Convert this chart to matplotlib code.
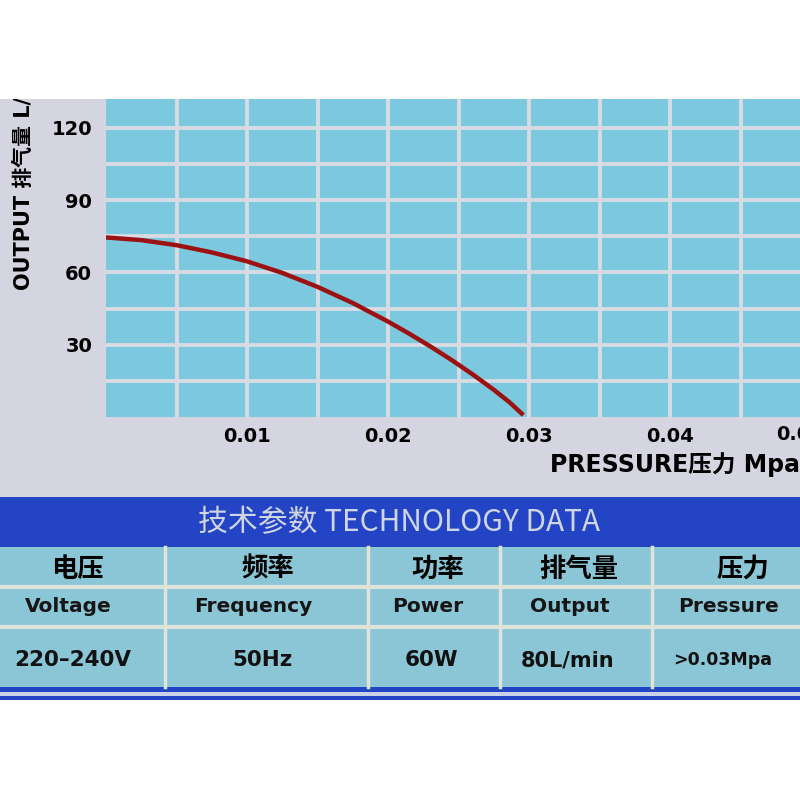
import matplotlib
matplotlib.use("Agg")
import matplotlib.pyplot as plt
from matplotlib.patches import Rectangle

plt.rcParams['font.family'] = ['DejaVu Sans', 'Noto Sans CJK SC']

# curve (pressure in Mpa, output in L/min)
pressure = [0.0, 0.0025, 0.005, 0.0075, 0.01, 0.0125, 0.015, 0.0175,
            0.02, 0.0215, 0.023, 0.0245, 0.026, 0.0275, 0.0286, 0.0296]
output = [74.5, 73.4, 71.3, 68.3, 64.6, 59.8, 54.0, 47.3,
          39.6, 34.6, 29.3, 23.7, 17.7, 11.3, 6.2, 0.8]

x_ticks = [0.01, 0.02, 0.03, 0.04]
x_minor = [0.005, 0.015, 0.025, 0.035, 0.045]
y_ticks = [30, 60, 90, 120]
y_minor = [15, 45, 75, 105]

table_title = "技术参数 TECHNOLOGY DATA"
table_cn = ["电压", "频率", "功率", "排气量", "压力"]
table_en = ["Voltage", "Frequency", "Power", "Output", "Pressure"]
table_val = ["220–240V", "50Hz", "60W", "80L/min", ">0.03Mpa"]

W = 800.0
panel_gray = "#d5d5e1"
cell_blue = "#7cc8df"
grid_col = "#d9dbe3"
band_blue = "#2344c4"
table_blue = "#8ac6d6"
divider = "#dfe3da"

fig = plt.figure(figsize=(8, 8), dpi=100, facecolor="white")

# background layer in pixel coordinates
bg = fig.add_axes([0, 0, 1, 1], zorder=-1)
bg.set_xlim(0, W)
bg.set_ylim(W, 0)
bg.axis("off")
bg.add_patch(Rectangle((0, 99), W, 398, color=panel_gray, lw=0))
bg.add_patch(Rectangle((0, 497), W, 50, color=band_blue, lw=0))
bg.add_patch(Rectangle((0, 547), W, 141, color=table_blue, lw=0))
bg.add_patch(Rectangle((0, 687), W, 5, color=band_blue, lw=0))
bg.add_patch(Rectangle((0, 692), W, 4, color="#c9d3e6", lw=0))
bg.add_patch(Rectangle((0, 696), W, 4, color=band_blue, lw=0))
for yy in [587, 627]:
    bg.plot([0, W], [yy, yy], color=divider, lw=3)
for xx in [165, 368, 500, 652]:
    bg.plot([xx, xx], [547, 687], color=divider, lw=2.5)

bg.text(399, 523, table_title, color="#cfd5e3", fontsize=21.5,
        family=['Liberation Sans Narrow', 'Noto Sans CJK SC'],
        ha="center", va="center")

cn_x = [77, 268, 438, 579, 743]
en_x = [68, 253, 428, 570, 729]
val_x = [73, 262, 431, 568, 723]
val_size = [15.5, 15.5, 15.5, 15, 12.5]
for i in range(len(table_cn)):
    bg.text(cn_x[i], 569, table_cn[i], fontsize=19, weight="bold",
            family=['Noto Sans CJK SC'], ha="center", va="center")
    bg.text(en_x[i], 607, table_en[i], fontsize=14.5, weight="bold",
            ha="center", va="center", color="#151515")
    bg.text(val_x[i], 660, table_val[i], fontsize=val_size[i], weight="bold",
            ha="center", va="center", color="#111111")

# chart
x_px = 14100.0  # pixels per 1 Mpa
ax = fig.add_axes([106 / W, 1 - 417 / W, 694 / W, 318 / W])
ax.set_facecolor(cell_blue)
ax.set_xlim(0, 694 / x_px)
ax.set_ylim(0, 318 / 2.41)
for s in ax.spines.values():
    s.set_visible(False)
ax.set_xticks(x_ticks)
ax.set_xticklabels([f"{v:.2f}" for v in x_ticks])
ax.set_xticks(x_minor, minor=True)
ax.set_yticks(y_ticks)
ax.set_yticks(y_minor, minor=True)
ax.tick_params(which="both", length=0)
ax.tick_params(axis="x", pad=7, labelsize=14)
ax.tick_params(axis="y", pad=10, labelsize=14)
for lab in ax.get_xticklabels() + ax.get_yticklabels():
    lab.set_fontweight("bold")
ax.grid(True, which="both", color=grid_col, lw=2.8)
ax.set_axisbelow(True)

ax.plot(pressure, output, color="#9c1212", lw=3.2, solid_capstyle="butt")

# partly hidden 0.05 label at the right edge
ax.text(0.0492, -17 / 318, "0.05", transform=ax.get_xaxis_transform(),
        ha="center", va="center", fontsize=14, weight="bold", clip_on=False)

fig.text(550 / W, 1 - 465 / W, "PRESSURE压力 Mpa", fontsize=17,
         weight="bold", ha="left", va="center")
fig.text(24 / W, 1 - 290 / W, "OUTPUT 排气量 L/min", fontsize=15,
         weight="bold", rotation=90, ha="center", va="bottom")

# white margin on top hides the cut-off part of the label
fig.add_artist(Rectangle((0, 1 - 99 / W), 1, 99 / W, transform=fig.transFigure,
                         color="white", lw=0, zorder=10))

fig.savefig("out.png", dpi=100, facecolor="white")
